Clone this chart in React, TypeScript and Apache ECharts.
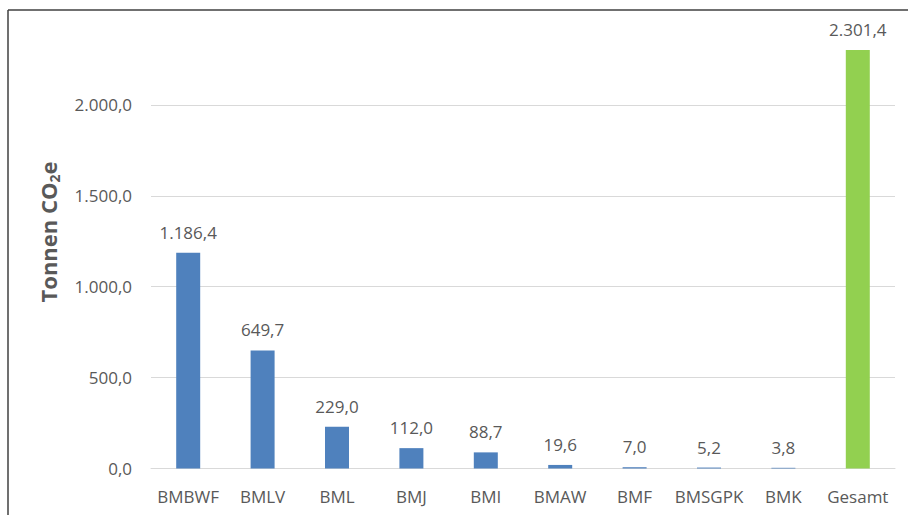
import React, { useEffect, useRef } from "react";
import * as echarts from "echarts";

const categories = ["BMBWF", "BMLV", "BML", "BMJ", "BMI", "BMAW", "BMF", "BMSGPK", "BMK", "Gesamt"];
const values = [1186.4, 649.7, 229.0, 112.0, 88.7, 19.6, 7.0, 5.2, 3.8, 2301.4];
const gridValues = [500, 1000, 1500, 2000];

const BLUE = "#4F81BD";
const GREEN = "#92D050";
const TEXT = "#595959";
const FONT = "'Open Sans', 'Noto Sans', sans-serif";

function fmt(v: number): string {
  const neg = v < 0;
  const a = Math.abs(v);
  const fixed = a.toFixed(1);
  const [intPart, dec] = fixed.split(".");
  const withDots = intPart.replace(/\B(?=(\d{3})+(?!\d))/g, ".");
  return (neg ? "-" : "") + withDots + "," + dec;
}

export default function App() {
  const ref = useRef<HTMLDivElement>(null);
  useEffect(() => {
    if (!ref.current) return;
    const chart = echarts.init(ref.current, null, { renderer: "svg" });
    chart.setOption({
      animation: false,
      backgroundColor: "#ffffff",
      grid: { left: 151, right: 13, top: 14, bottom: 46.5, containLabel: false },
      xAxis: {
        type: "category",
        data: categories,
        axisLine: { show: true, lineStyle: { color: "#D9D9D9", width: 1 } },
        axisTick: { show: false },
        axisLabel: { color: TEXT, fontSize: 17, fontFamily: FONT, margin: 19, interval: 0 },
      },
      yAxis: {
        type: "value",
        min: 0,
        max: 2500,
        interval: 500,
        axisLine: { show: false },
        axisTick: { show: false },
        splitLine: { show: false },
        axisLabel: {
          color: TEXT,
          fontSize: 17,
          fontFamily: FONT,
          margin: 19,
          formatter: (v: number) => (v > 2000 ? "" : fmt(v)),
        },
      },
      series: [
        {
          type: "bar",
          barWidth: 24,
          data: values.map((v, i) => ({
            value: v,
            itemStyle: { color: categories[i] === "Gesamt" ? GREEN : BLUE },
          })),
          label: {
            show: true,
            position: "top",
            distance: 12,
            color: TEXT,
            fontSize: 17,
            fontFamily: FONT,
            formatter: (p: any) => fmt(p.value),
          },
          markLine: {
            silent: true,
            symbol: ["none", "none"],
            label: { show: false },
            lineStyle: { color: "#D9D9D9", width: 1, type: "solid" },
            data: gridValues.map((v) => ({ yAxis: v })),
            z: 0,
          },
          z: 2,
        },
      ],
      graphic: [
        {
          type: "line",
          shape: { x1: 8, y1: 10, x2: 908, y2: 10 },
          style: { stroke: "#404040", lineWidth: 1.5 },
        },
        {
          type: "line",
          shape: { x1: 8, y1: 10, x2: 8, y2: 515 },
          style: { stroke: "#404040", lineWidth: 1.5 },
        },
        {
          type: "text",
          x: 48,
          y: 232,
          rotation: Math.PI / 2,
          style: {
            text: "{a|Tonnen CO}{b|2}{a|e}",
            align: "center",
            verticalAlign: "middle",
            rich: {
              a: { fontSize: 22, fontWeight: "bold", fontFamily: FONT, fill: TEXT, color: TEXT, lineHeight: 26 },
              b: { fontSize: 14, fontWeight: "bold", fontFamily: FONT, fill: TEXT, color: TEXT, verticalAlign: "bottom", lineHeight: 20, padding: [8, 0, 0, 0] },
            },
          },
        },
      ],
    });
    return () => chart.dispose();
  }, []);
  return (
    <div
      ref={ref}
      style={{ position: "fixed", left: 0, top: 0, width: 908, height: 515 }}
    />
  );
}
